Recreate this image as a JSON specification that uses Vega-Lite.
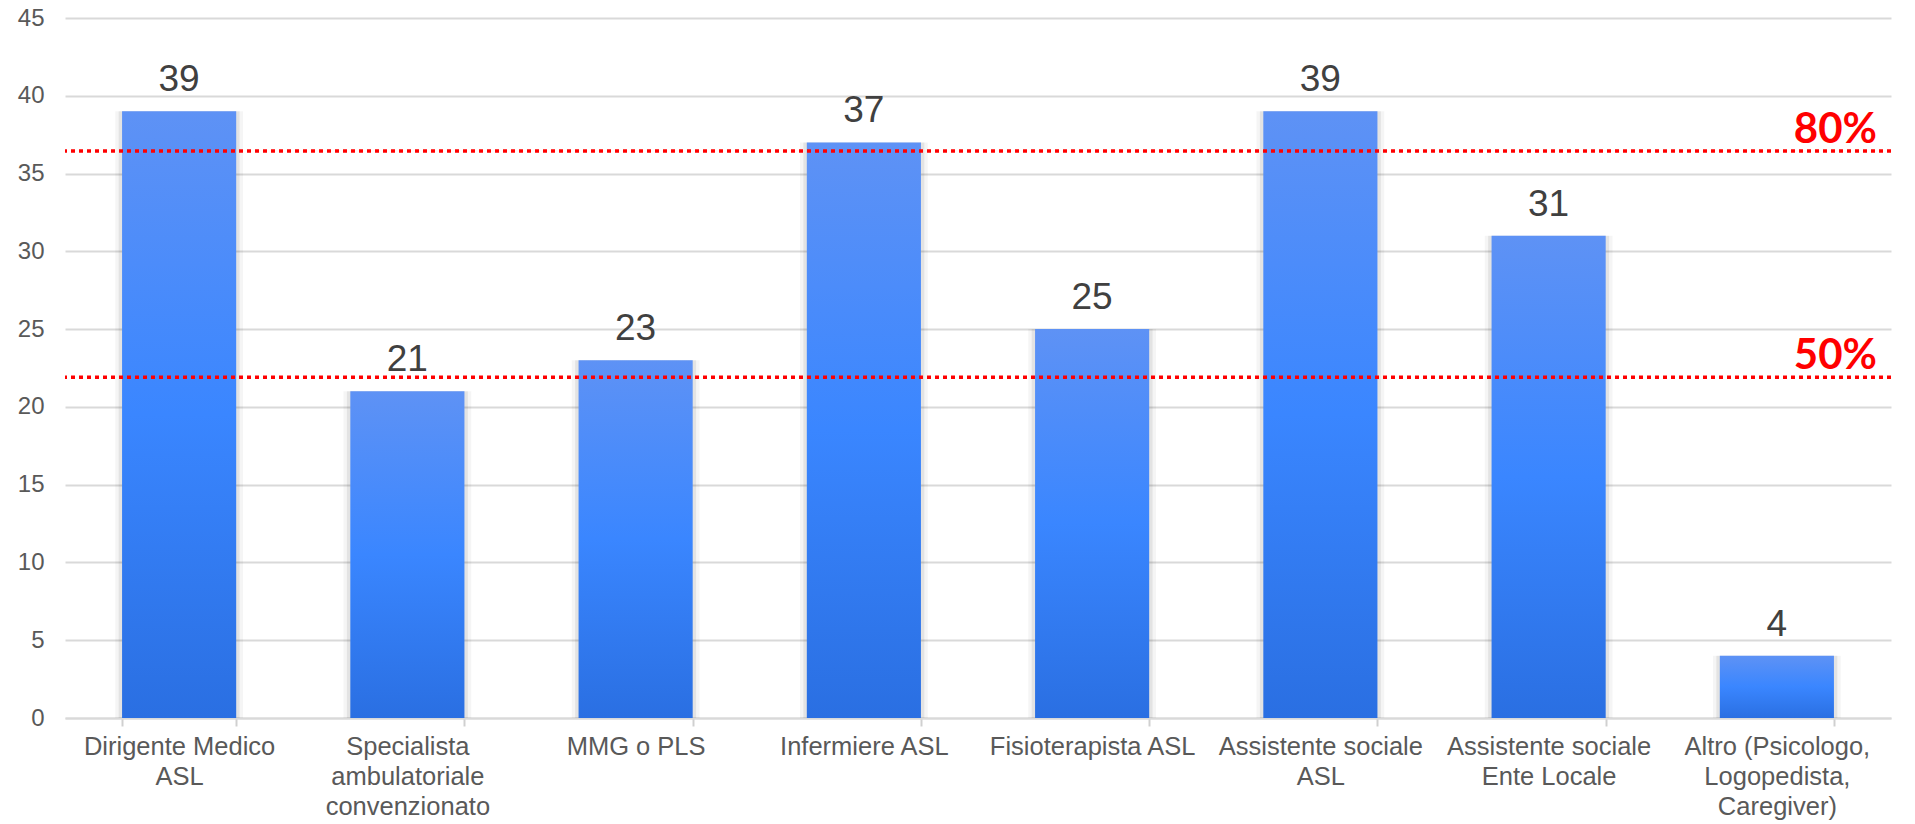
{
  "$schema": "https://vega.github.io/schema/vega-lite/v6.json",
  "width": 1826,
  "height": 700,
  "autosize": "none",
  "padding": {"left": 65, "top": 18, "right": 24, "bottom": 106},
  "background": "#ffffff",
  "config": {
    "view": {"stroke": null},
    "font": "Liberation Sans"
  },
  "datasets": {
    "figure": [
      {"ruolo": "Dirigente Medico|ASL", "n": 39},
      {"ruolo": "Specialista|ambulatoriale|convenzionato", "n": 21},
      {"ruolo": "MMG o PLS", "n": 23},
      {"ruolo": "Infermiere ASL", "n": 37},
      {"ruolo": "Fisioterapista ASL", "n": 25},
      {"ruolo": "Assistente sociale|ASL", "n": 39},
      {"ruolo": "Assistente sociale|Ente Locale", "n": 31},
      {"ruolo": "Altro (Psicologo,|Logopedista,|Caregiver)", "n": 4}
    ],
    "soglie": [
      {"soglia": "80%", "valore": 36.45},
      {"soglia": "50%", "valore": 21.9}
    ]
  },
  "encoding": {
    "x": {
      "field": "ruolo",
      "type": "nominal",
      "sort": null,
      "scale": {"paddingInner": 0.5, "paddingOuter": 0.25},
      "axis": {
        "title": null,
        "labelAngle": 0,
        "labelExpr": "split(datum.label, '|')",
        "labelFont": "Liberation Sans",
        "labelFontSize": 25.5,
        "labelColor": "#595959",
        "labelLineHeight": 30,
        "labelLimit": 400,
        "labelPadding": 8,
        "labelBaseline": "top",
        "tickBand": "extent",
        "tickColor": "#d0d0d0",
        "tickWidth": 2,
        "tickSize": 8,
        "domainColor": "#d9d9d9",
        "domainWidth": 2,
        "grid": false
      }
    }
  },
  "layer": [
    {
      "data": {"name": "figure"},
      "mark": {"type": "bar", "color": "#000000", "opacity": 0.04, "width": {"band": 1.12}},
      "encoding": {
        "y": {
          "field": "n",
          "type": "quantitative",
          "scale": {"domain": [0, 45], "nice": false},
          "axis": {
            "title": null,
            "values": [0, 5, 10, 15, 20, 25, 30, 35, 40, 45],
            "labelFont": "Liberation Sans",
            "labelFontSize": 24,
            "labelColor": "#595959",
            "labelPadding": 21,
            "ticks": false,
            "domain": false,
            "gridColor": "#d9d9d9",
            "gridWidth": 2
          }
        }
      }
    },
    {
      "data": {"name": "figure"},
      "mark": {"type": "bar", "color": "#000000", "opacity": 0.07, "width": {"band": 1.06}},
      "encoding": {"y": {"field": "n", "type": "quantitative"}}
    },
    {
      "data": {"name": "figure"},
      "mark": {
        "type": "bar",
        "width": {"band": 1},
        "color": {
          "gradient": "linear",
          "x1": 0, "y1": 0, "x2": 0, "y2": 1,
          "stops": [
            {"offset": 0, "color": "#5e92f5"},
            {"offset": 0.5, "color": "#3a86ff"},
            {"offset": 1, "color": "#2a6fe2"}
          ]
        }
      },
      "encoding": {"y": {"field": "n", "type": "quantitative"}}
    },
    {
      "data": {"name": "figure"},
      "mark": {"type": "text", "font": "Liberation Sans", "fontSize": 37, "color": "#404040", "baseline": "alphabetic", "dy": -20},
      "encoding": {
        "y": {"field": "n", "type": "quantitative"},
        "text": {"field": "n", "type": "quantitative"}
      }
    },
    {
      "data": {"name": "soglie"},
      "mark": {"type": "rule", "color": "#ff0000", "strokeWidth": 3.5, "strokeDash": [4, 4]},
      "encoding": {
        "x": null,
        "y": {"field": "valore", "type": "quantitative"}
      }
    },
    {
      "data": {"name": "soglie"},
      "mark": {"type": "text", "font": "Lato", "fontWeight": "bold", "fontSize": 42, "color": "#ff0000", "align": "right", "baseline": "alphabetic", "dy": -8, "dx": -14},
      "encoding": {
        "x": {"value": "width"},
        "y": {"field": "valore", "type": "quantitative"},
        "text": {"field": "soglia", "type": "nominal"}
      }
    }
  ]
}
